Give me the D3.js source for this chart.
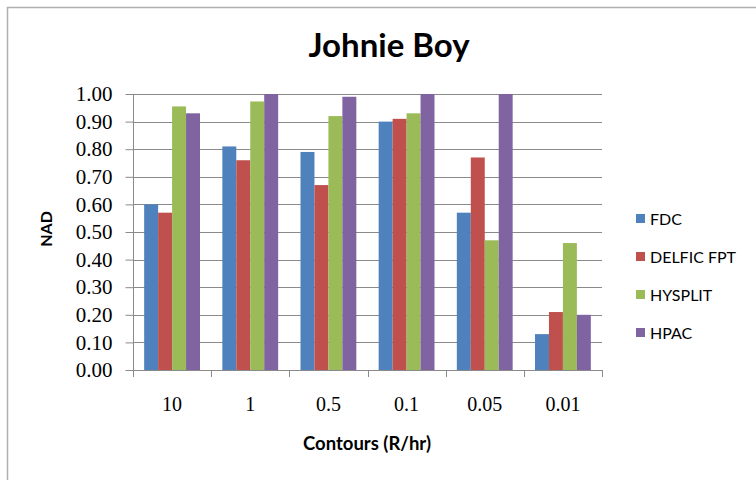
<!DOCTYPE html>
<html><head><meta charset="utf-8">
<script src="https://cdn.jsdelivr.net/npm/d3@7/dist/d3.min.js"></script>
<style>body{margin:0;background:#fff}svg{display:block}</style>
</head><body>
<script>
const categories = ["10", "1", "0.5", "0.1", "0.05", "0.01"];
const seriesNames = ["FDC", "DELFIC FPT", "HYSPLIT", "HPAC"];
const FDC = [0.60, 0.81, 0.79, 0.90, 0.57, 0.13];
const DELFIC = [0.57, 0.76, 0.67, 0.91, 0.77, 0.21];
const HYSPLIT = [0.955, 0.973, 0.92, 0.93, 0.47, 0.46];
const HPAC = [0.93, 1.00, 0.99, 1.00, 1.00, 0.20];
const yTicks = [0, 0.1, 0.2, 0.3, 0.4, 0.5, 0.6, 0.7, 0.8, 0.9, 1.0];
const colors = ["#4F81BD", "#C0504D", "#9BBB59", "#8064A2"];
const values = [FDC, DELFIC, HYSPLIT, HPAC];

const W = 756, H = 480;
const svg = d3.select("body").append("svg").attr("width", W).attr("height", H);
// chart frame
svg.append("rect").attr("x", 7.5).attr("y", 7.5).attr("width", W + 20).attr("height", H + 20)
  .attr("fill", "#fff").attr("stroke", "#b0b0b0").attr("stroke-width", 1.5);

const m = {left: 133, right: 602, top: 94, bottom: 370};
const x0 = d3.scaleBand().domain(categories).range([m.left, m.right]).paddingInner(0).paddingOuter(0);
const x1 = d3.scaleBand().domain(d3.range(4)).range([0, x0.bandwidth()]).paddingOuter(0.8).paddingInner(0);
const y = d3.scaleLinear().domain([0, 1]).range([m.bottom, m.top]);

// gridlines
svg.append("g").selectAll("line").data(yTicks.slice(1)).join("line")
  .attr("x1", m.left).attr("x2", m.right)
  .attr("y1", d => Math.round(y(d)) + 0.5).attr("y2", d => Math.round(y(d)) + 0.5)
  .attr("stroke", "#8a8a8a").attr("stroke-width", 1);

// bars
const g = svg.append("g");
categories.forEach((c, i) => {
  values.forEach((vals, s) => {
    g.append("rect")
      .attr("x", x0(c) + x1(s)).attr("width", x1.bandwidth())
      .attr("y", y(vals[i])).attr("height", y(0) - y(vals[i]))
      .attr("fill", colors[s]);
  });
});

// y axis
const yAxis = d3.axisLeft(y).tickValues(yTicks).tickFormat(d3.format(".2f")).tickSize(8).tickPadding(13);
const ya = svg.append("g").attr("transform", `translate(${m.left + 0.5},0)`).call(yAxis);
ya.select(".domain").attr("stroke", "#8a8a8a").attr("d", `M0,${m.top}V${m.bottom}`);
ya.selectAll(".tick line").attr("stroke", "#8a8a8a");
ya.selectAll(".tick text").attr("font-family", "Liberation Serif").attr("font-size", 21).attr("fill", "#000");

// x axis
const xa = svg.append("g").attr("transform", `translate(0,${m.bottom + 0.5})`)
  .call(d3.axisBottom(x0).tickSize(0).tickPadding(26));
xa.select(".domain").attr("stroke", "#8a8a8a").attr("d", `M${m.left},0H${m.right}`);
xa.selectAll(".tick text").attr("font-family", "Liberation Serif").attr("font-size", 20).attr("fill", "#000");
// boundary ticks
const bounds = categories.map(c => x0(c)).concat([m.right]);
svg.append("g").selectAll("line").data(bounds).join("line")
  .attr("x1", d => Math.round(d) + 0.5).attr("x2", d => Math.round(d) + 0.5)
  .attr("y1", m.bottom).attr("y2", m.bottom + 7).attr("stroke", "#8a8a8a");

// title
svg.append("text").attr("x", 389).attr("y", 57).attr("text-anchor", "middle")
  .attr("font-family", "Lato").attr("font-weight", "bold").attr("font-size", 33).text("Johnie Boy");
// axis titles
svg.append("text").attr("transform", "translate(52,229) rotate(-90)").attr("text-anchor", "middle")
  .attr("font-family", "Lato").attr("font-weight", "bold").attr("font-size", 16).text("NAD");
svg.append("text").attr("x", 367).attr("y", 450).attr("text-anchor", "middle")
  .attr("font-family", "Lato").attr("font-weight", "bold").attr("font-size", 18.5).text("Contours (R/hr)");

// legend
const leg = svg.append("g");
const legY = [219, 257, 295, 333];
seriesNames.forEach((n, i) => {
  leg.append("rect").attr("x", 636).attr("y", legY[i] - 5).attr("width", 9).attr("height", 9).attr("fill", colors[i]);
  leg.append("text").attr("x", 650).attr("y", legY[i] + 6).attr("font-family", "Lato").attr("font-size", 16)
    .attr("fill", "#000").text(n);
});
</script>
</body></html>
